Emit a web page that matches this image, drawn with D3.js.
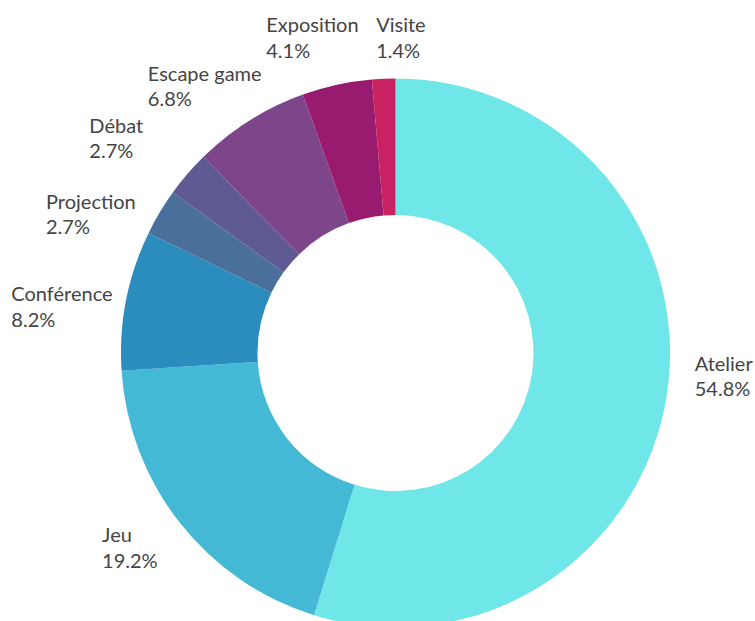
<!DOCTYPE html>
<html>
<head>
<meta charset="utf-8">
<script src="https://cdn.jsdelivr.net/npm/d3@7"></script>
<style>
  body { margin: 0; background: #fff; }
  text { font-family: Lato, "Open Sans", sans-serif; }
</style>
</head>
<body>
<div id="chart"></div>
<script>
const categories = ["Atelier", "Jeu", "Conférence", "Projection", "Débat", "Escape game", "Exposition", "Visite"];
const counts = [40, 14, 6, 2, 2, 5, 3, 1];
const colors = ["#6fe6e8", "#43b9d6", "#2b8cbe", "#4a6f9a", "#5f5a93", "#7e468a", "#981b70", "#c82260"];

// small shifts the original renderer applied to keep labels apart
const labelNudge = [[10, -26], [-9, -8], [4, 19], [-12, 35], [-32, -3], [-10, 21], [-14, 0], [19, -1]];

const width = 755;
const height = 621;
const cx = 395.5, cy = 353;
const outerR = 274.5, innerR = 138;

const total = d3.sum(counts);
const data = categories.map((c, i) => ({ name: c, value: counts[i], color: colors[i], nudge: labelNudge[i] }));

const svg = d3.select("#chart")
  .append("svg")
  .attr("width", width)
  .attr("height", height);

const g = svg.append("g")
  .attr("transform", `translate(${cx}, ${cy})`);

const pie = d3.pie()
  .sort(null)
  .value(d => d.value);

const arc = d3.arc()
  .innerRadius(innerR)
  .outerRadius(outerR);

const arcs = pie(data);

g.selectAll("path")
  .data(arcs)
  .enter()
  .append("path")
  .attr("d", arc)
  .attr("fill", d => d.data.color);

const fmt = d3.format(".1f");

const labels = g.selectAll("g.label")
  .data(arcs)
  .enter()
  .append("g")
  .attr("class", "label");

labels.append("text")
  .attr("fill", "#444")
  .style("font-size", "20px")
  .text(d => d.data.name);

labels.append("text")
  .attr("y", 25.5)
  .attr("fill", "#444")
  .style("font-size", "20px")
  .text(d => fmt(d.data.value / total * 100) + "%");

labels.each(function (d) {
  const bb = this.getBBox();
  const a = (d.startAngle + d.endAngle) / 2;
  const s = Math.sin(a), c = Math.cos(a);
  // half extent of the label box along the radial direction
  const ext = Math.abs(s) * bb.width / 2 + Math.abs(c) * bb.height / 2;
  const dist = outerR + 15 + ext;
  const tx = s * dist + d.data.nudge[0];
  const ty = -c * dist + d.data.nudge[1];
  d3.select(this).attr("transform",
    `translate(${tx - (bb.x + bb.width / 2)}, ${ty - (bb.y + bb.height / 2)})`);
});
</script>
</body>
</html>
